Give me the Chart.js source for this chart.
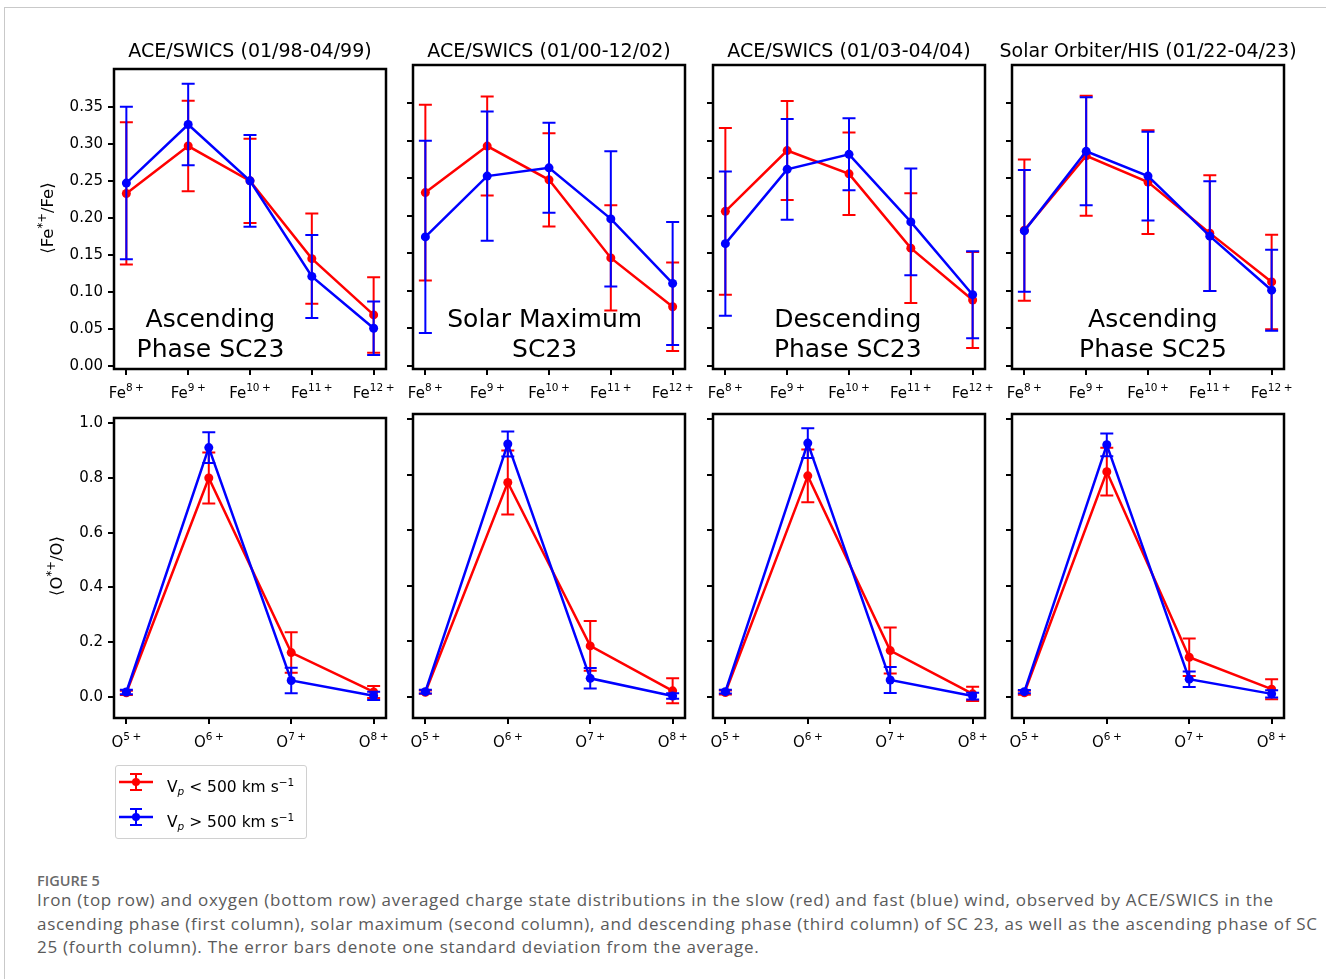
<!DOCTYPE html>
<html>
<head>
<meta charset="utf-8">
<script src="https://cdn.jsdelivr.net/npm/chart.js@4.4.0/dist/chart.umd.min.js"></script>
<style>
  body { margin: 0; background: #fff; width: 1326px; height: 979px; overflow: hidden; position: relative; font-family: "DejaVu Sans", sans-serif; }
  .card { position: absolute; left: 4px; top: 7px; width: 1400px; height: 1000px; border: 1px solid #c9c9c9; }
  canvas { position: absolute; }
  .ttl { position: absolute; font-size: 19px; line-height: 19px; white-space: nowrap; transform: translateX(-50%); color: #000; }
  .note { position: absolute; font-size: 25px; line-height: 30px; text-align: center; white-space: nowrap; transform: translateX(-50%); color: #000; }
  .ylab { position: absolute; font-size: 16.5px; white-space: nowrap; transform: translate(-50%, -50%) rotate(-90deg); color: #000; }
  .ylab sup { font-size: 11.5px; }
  .legend { position: absolute; left: 115px; top: 765px; width: 190px; height: 72px; border: 1px solid #d0d0d0; border-radius: 3px; background: #fff; }
  .leg-row { position: absolute; left: 2px; height: 22px; font-size: 15.5px; line-height: 22px; white-space: nowrap; }
  .leg-row svg { position: absolute; left: 0; top: 0; }
  .leg-row span { position: absolute; left: 49px; top: 0; }
  .leg-row sub { font-size: 10.5px; font-style: italic; vertical-align: -3px; }
  .leg-row sup { font-size: 10.5px; vertical-align: 6px; }
  .fig { position: absolute; left: 37px; top: 871px; font-family: "Open Sans", sans-serif; font-size: 14.5px; font-weight: 600; color: #6a6a6a; }
  .cap { position: absolute; left: 37px; top: 888px; font-family: "Open Sans", sans-serif; font-size: 17px; letter-spacing: 0.72px; line-height: 23.5px; color: #5a5a5a; white-space: nowrap; }
</style>
</head>
<body>
<div class="card"></div>
<div id="stage"></div>

<div class="ylab" style="left:46px; top:218px;">⟨Fe<sup>*+</sup>/Fe⟩</div>
<div class="ylab" style="left:55px; top:566px;">⟨O<sup>*+</sup>/O⟩</div>

<div class="legend">
  <div class="leg-row" style="top:5px;">
    <svg width="40" height="22"><line x1="1" y1="11" x2="35" y2="11" stroke="#f00" stroke-width="2.5"/><line x1="18" y1="3" x2="18" y2="19" stroke="#f00" stroke-width="2"/><line x1="12" y1="3" x2="24" y2="3" stroke="#f00" stroke-width="2"/><line x1="12" y1="19" x2="24" y2="19" stroke="#f00" stroke-width="2"/><circle cx="18" cy="11" r="4" fill="#f00"/></svg>
    <span>V<sub>p</sub> &lt; 500 km s<sup>−1</sup></span>
  </div>
  <div class="leg-row" style="top:40px;">
    <svg width="40" height="22"><line x1="1" y1="11" x2="35" y2="11" stroke="#00f" stroke-width="2.5"/><line x1="18" y1="3" x2="18" y2="19" stroke="#00f" stroke-width="2"/><line x1="12" y1="3" x2="24" y2="3" stroke="#00f" stroke-width="2"/><line x1="12" y1="19" x2="24" y2="19" stroke="#00f" stroke-width="2"/><circle cx="18" cy="11" r="4" fill="#00f"/></svg>
    <span>V<sub>p</sub> &gt; 500 km s<sup>−1</sup></span>
  </div>
</div>

<div class="fig">FIGURE 5</div>
<div class="cap">Iron (top row) and oxygen (bottom row) averaged charge state distributions in the slow (red) and fast (blue) wind, observed by ACE/SWICS in the<br>ascending phase (first column), solar maximum (second column), and descending phase (third column) of SC 23, as well as the ascending phase of SC<br>25 (fourth column). The error bars denote one standard deviation from the average.</div>

<script>
// ---- data ----
const feStates = ["8+", "9+", "10+", "11+", "12+"];
const oStates = ["5+", "6+", "7+", "8+"];
const feTicks = [0, 0.05, 0.10, 0.15, 0.20, 0.25, 0.30, 0.35];
const oTicks = [0, 0.2, 0.4, 0.6, 0.8, 1.0];

const titles = ["ACE/SWICS (01/98-04/99)", "ACE/SWICS (01/00-12/02)", "ACE/SWICS (01/03-04/04)", "Solar Orbiter/HIS (01/22-04/23)"];
const phases = [["Ascending", "Phase SC23"], ["Solar Maximum", "SC23"], ["Descending", "Phase SC23"], ["Ascending", "Phase SC25"]];
const phaseX = [1.36, 1.93, 1.98, 2.08]; // text centre, in x units

// iron, slow wind (red) / fast wind (blue)
const slowFeA = [0.233, 0.297, 0.250, 0.145, 0.069];
const slowFeErrA = [0.096, 0.061, 0.057, 0.061, 0.051];
const fastFeA = [0.247, 0.326, 0.250, 0.121, 0.051];
const fastFeErrA = [0.103, 0.055, 0.062, 0.056, 0.036];

const slowFeB = [0.231, 0.293, 0.248, 0.144, 0.079];
const slowFeErrB = [0.117, 0.066, 0.062, 0.070, 0.059];
const fastFeB = [0.172, 0.253, 0.264, 0.196, 0.110];
const fastFeErrB = [0.128, 0.086, 0.060, 0.090, 0.082];

const slowFeC = [0.206, 0.287, 0.256, 0.157, 0.088];
const slowFeErrC = [0.111, 0.066, 0.055, 0.073, 0.064];
const fastFeC = [0.163, 0.262, 0.282, 0.192, 0.095];
const fastFeErrC = [0.096, 0.067, 0.048, 0.071, 0.058];

const slowFeD = [0.181, 0.280, 0.245, 0.177, 0.112];
const slowFeErrD = [0.094, 0.080, 0.069, 0.077, 0.063];
const fastFeD = [0.180, 0.286, 0.253, 0.173, 0.101];
const fastFeErrD = [0.081, 0.072, 0.059, 0.073, 0.054];

// oxygen
const slowOA = [0.015, 0.800, 0.162, 0.018];
const slowOErrA = [0.008, 0.093, 0.074, 0.022];
const fastOA = [0.018, 0.911, 0.060, 0.004];
const fastOErrA = [0.008, 0.056, 0.047, 0.015];

const slowOB = [0.016, 0.772, 0.183, 0.021];
const slowOErrB = [0.006, 0.115, 0.090, 0.045];
const fastOB = [0.018, 0.911, 0.066, 0.002];
const fastOErrB = [0.007, 0.045, 0.037, 0.010];

const slowOC = [0.015, 0.796, 0.166, 0.010];
const slowOErrC = [0.007, 0.095, 0.083, 0.026];
const fastOC = [0.018, 0.914, 0.060, 0.002];
const fastOErrC = [0.007, 0.054, 0.047, 0.012];

const slowOD = [0.014, 0.811, 0.142, 0.027];
const slowOErrD = [0.007, 0.086, 0.068, 0.036];
const fastOD = [0.018, 0.908, 0.063, 0.010];
const fastOErrD = [0.006, 0.041, 0.028, 0.013];

// ---- layout ----
const colLeft = [114, 413, 713, 1012];
const rowTop = [65, 414];
const areaW = 272, areaH = 304;
const padL = 80, padT = 10, padR = 20, padB = 45;

const RED = "#ff0000", BLUE = "#0000ff";

// error bars drawn right after each dataset so blue sits over red
const errorBars = {
  id: "errorBars",
  afterDatasetDraw(chart, args) {
    const ds = chart.data.datasets[args.index];
    if (!ds.errs) return;
    const y = chart.scales.y, ctx = chart.ctx;
    ctx.save();
    ctx.strokeStyle = ds.borderColor;
    ctx.lineWidth = 2;
    args.meta.data.forEach((pt, i) => {
      const v = ds.data[i].y, e = ds.errs[i];
      const top = y.getPixelForValue(v + e), bot = y.getPixelForValue(v - e);
      ctx.beginPath();
      ctx.moveTo(pt.x, top); ctx.lineTo(pt.x, bot);
      ctx.moveTo(pt.x - 6.5, top); ctx.lineTo(pt.x + 6.5, top);
      ctx.moveTo(pt.x - 6.5, bot); ctx.lineTo(pt.x + 6.5, bot);
      ctx.stroke();
    });
    ctx.restore();
  }
};

// full box + x labels with superscripts
const frameAndLabels = {
  id: "frameAndLabels",
  afterDraw(chart) {
    const { ctx, chartArea: a } = chart;
    const o = chart.options.plugins.frameAndLabels;
    ctx.save();
    ctx.strokeStyle = "#000";
    ctx.lineWidth = 2.5;
    ctx.strokeRect(a.left, a.top, a.right - a.left, a.bottom - a.top);

    const xs = chart.scales.x;
    ctx.fillStyle = "#000";
    ctx.textBaseline = "alphabetic";
    o.states.forEach((s, i) => {
      const cx = xs.getPixelForValue(i);
      const num = s.replace("+", "");
      ctx.font = "15px 'DejaVu Sans'";
      const wb = ctx.measureText(o.base).width;
      ctx.font = "10.5px 'DejaVu Sans'";
      const wn = ctx.measureText(num).width;
      const wp = ctx.measureText("+").width;
      const total = wb + wn + 2.5 + wp;
      let x0 = cx - total / 2;
      const by = a.bottom + 29;
      ctx.font = "15px 'DejaVu Sans'";
      ctx.fillText(o.base, x0, by);
      ctx.font = "10.5px 'DejaVu Sans'";
      ctx.fillText(num, x0 + wb, by - 7);
      ctx.fillText("+", x0 + wb + wn + 2.5, by - 7);
    });
    ctx.restore();
  }
};

function makePanel(row, col, states, base, slow, slowErr, fast, fastErr, ticks, yMin, yMax, dec) {
  const cv = document.createElement("canvas");
  const W = areaW + padL + padR, H = areaH + padT + padB;
  cv.width = W; cv.height = H;
  cv.style.left = (colLeft[col] - padL) + "px";
  cv.style.top = (rowTop[row] - padT) + "px";
  cv.style.width = W + "px"; cv.style.height = H + "px";
  document.getElementById("stage").appendChild(cv);

  const n = states.length;
  const idx = states.map((_, i) => i);
  const margin = (n - 1) * 0.05;

  return new Chart(cv.getContext("2d"), {
    type: "line",
    data: {
      datasets: [
        { label: "slow", data: slow.map((v, i) => ({ x: i, y: v })), errs: slowErr, borderColor: RED, backgroundColor: RED, borderWidth: 2.5, pointRadius: 4.5, pointBorderWidth: 0, order: 2 },
        { label: "fast", data: fast.map((v, i) => ({ x: i, y: v })), errs: fastErr, borderColor: BLUE, backgroundColor: BLUE, borderWidth: 2.5, pointRadius: 4.5, pointBorderWidth: 0, order: 1 }
      ]
    },
    options: {
      responsive: false,
      animation: false,
      devicePixelRatio: 1,
      layout: { padding: { left: 0, right: padR, top: padT, bottom: 0 }, autoPadding: false },
      plugins: {
        legend: { display: false },
        tooltip: { enabled: false },
        frameAndLabels: { states: states, base: base }
      },
      scales: {
        x: {
          type: "linear", min: -margin, max: n - 1 + margin,
          afterBuildTicks: s => { s.ticks = idx.map(v => ({ value: v })); },
          afterFit: s => { s.height = padB; },
          grid: { drawOnChartArea: false, drawTicks: true, tickLength: 6, color: "#000", lineWidth: 2 },
          border: { display: false },
          ticks: { display: false }
        },
        y: {
          type: "linear", min: yMin, max: yMax,
          afterBuildTicks: s => { s.ticks = ticks.map(v => ({ value: v })); },
          afterFit: s => { s.width = padL; },
          grid: { drawOnChartArea: false, drawTicks: true, tickLength: 6, color: "#000", lineWidth: 2 },
          border: { display: false },
          ticks: {
            display: col === 0, color: "#000", padding: 5,
            font: { family: "DejaVu Sans", size: 15 },
            callback: v => v.toFixed(dec)
          }
        }
      }
    },
    plugins: [errorBars, frameAndLabels]
  });
}

const feSets = [
  [slowFeA, slowFeErrA, fastFeA, fastFeErrA],
  [slowFeB, slowFeErrB, fastFeB, fastFeErrB],
  [slowFeC, slowFeErrC, fastFeC, fastFeErrC],
  [slowFeD, slowFeErrD, fastFeD, fastFeErrD]
];
const oSets = [
  [slowOA, slowOErrA, fastOA, fastOErrA],
  [slowOB, slowOErrB, fastOB, fastOErrB],
  [slowOC, slowOErrC, fastOC, fastOErrC],
  [slowOD, slowOErrD, fastOD, fastOErrD]
];

const stage = document.getElementById("stage");
for (let c = 0; c < 4; c++) {
  const fe = feSets[c], ox = oSets[c];
  const feChart = makePanel(0, c, feStates, "Fe", fe[0], fe[1], fe[2], fe[3], feTicks, -0.004, 0.401, 2);
  makePanel(1, c, oStates, "O", ox[0], ox[1], ox[2], ox[3], oTicks, -0.077, 1.019, 1);

  const t = document.createElement("div");
  t.className = "ttl";
  t.textContent = titles[c];
  t.style.left = (colLeft[c] + areaW / 2) + "px";
  t.style.top = "41px";
  stage.appendChild(t);

  // phase note, centred on an x position of the top panel
  const nx = feChart.scales.x.getPixelForValue(phaseX[c]) + colLeft[c] - padL;
  const note = document.createElement("div");
  note.className = "note";
  note.innerHTML = phases[c][0] + "<br>" + phases[c][1];
  note.style.left = nx + "px";
  note.style.top = "304px";
  stage.appendChild(note);
}
</script>
</body>
</html>
